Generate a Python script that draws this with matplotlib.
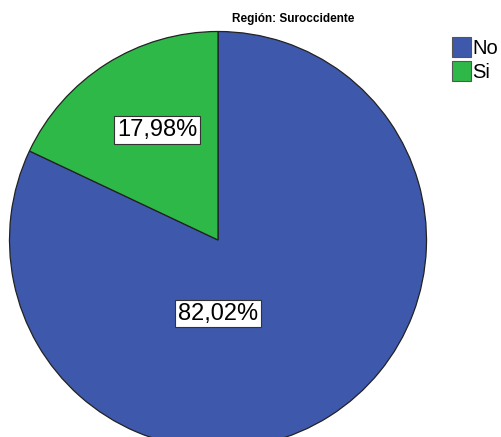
import matplotlib.pyplot as plt
from matplotlib.patches import Patch

plt.rcParams['font.family'] = ['Liberation Sans', 'DejaVu Sans']

categories = ['No', 'Si']
values = [82.02, 17.98]
colors = ['#3E58AC', '#2EB848']
label_text = ['82,02%', '17,98%']
subtitle = 'Región: Suroccidente'

W, H = 502, 437
cx, cy, r = 218, 240, 208.5   # pie centre / radius in pixels

fig = plt.figure(figsize=(W / 100, H / 100), dpi=100)
ax = fig.add_axes([0, 0, 1, 1])

wedges, _ = ax.pie(values, colors=colors, startangle=90, counterclock=False,
                   radius=1, wedgeprops=dict(edgecolor='#222222', linewidth=0.9))
ax.set_aspect('auto')
ax.set_xlim(-cx / r, (W - cx) / r)
ax.set_ylim(-(H - cy) / r, cy / r)
ax.axis('off')

# label positions (SPSS-style placement)
label_pos = [(0.0, -0.353), (-0.293, 0.528)]
for (x, y), t in zip(label_pos, label_text):
    ax.text(x, y, t, fontsize=17, ha='center', va='center',
            bbox=dict(boxstyle='square,pad=0.12', facecolor='white',
                      edgecolor='#333333', linewidth=0.8))

fig.text(293.5 / W, 1 - 19 / H, subtitle, fontsize=8.5, fontweight='bold',
         ha='center', va='center')

handles = [Patch(facecolor=c, edgecolor='#555555', linewidth=0.8) for c in colors]
fig.legend(handles, categories, loc='upper left', bbox_to_anchor=(452 / W, 1 - 37 / H),
           frameon=False, fontsize=14.5, handlelength=0.95, handleheight=1.15,
           handletextpad=0.05, labelspacing=0.15, borderpad=0, borderaxespad=0)

fig.savefig('out.png', dpi=100)
